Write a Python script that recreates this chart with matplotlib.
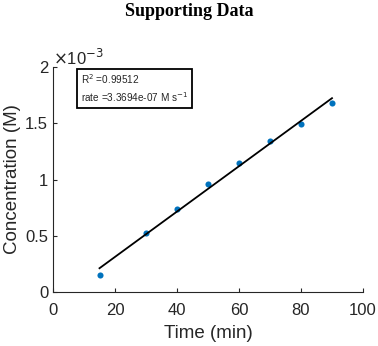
import numpy as np
import matplotlib.pyplot as plt
from matplotlib.ticker import FuncFormatter

# data
time_min = [15, 30, 40, 50, 60, 70, 80, 90]
conc_M = [0.154e-3, 0.522e-3, 0.736e-3, 0.956e-3, 1.150e-3, 1.344e-3, 1.496e-3, 1.681e-3]
r_squared = 0.99512
rate = 3.3694e-07
x_ticks = [0, 20, 40, 60, 80, 100]
y_ticks = [0, 0.5, 1, 1.5, 2]

plt.rcParams['font.family'] = ['Liberation Sans', 'DejaVu Sans']
grey = '#262626'

t = np.array(time_min)
c = np.array(conc_M) * 1e3  # shown in units of 1e-3 M

# linear fit through the points
slope, intercept = np.polyfit(t, c, 1)
t_fit = np.array([t.min(), t.max()])

fig = plt.figure(figsize=(3.78, 3.46), dpi=100)
ax = fig.add_axes([53 / 378, 1 - 292 / 346, 310 / 378, 225 / 346])

ax.plot(t, c, 'o', color='#0072BD', markersize=4.4, markeredgewidth=0)
ax.plot(t_fit, slope * t_fit + intercept, color='black', linewidth=1.3)

ax.set_xlim(0, 100)
ax.set_ylim(0, 2)
ax.set_xticks(x_ticks)
ax.set_yticks(y_ticks)
ax.yaxis.set_major_formatter(FuncFormatter(lambda v, p: '%g' % v))
ax.tick_params(direction='in', length=3, width=0.8, colors=grey, labelsize=12)
ax.tick_params(axis='x', pad=8)
ax.tick_params(axis='y', pad=3.5)
for side in ['top', 'right']:
    ax.spines[side].set_visible(False)
for side in ['left', 'bottom']:
    ax.spines[side].set_color(grey)
    ax.spines[side].set_linewidth(0.8)

ax.set_xlabel('Time (min)', fontsize=13.5, color=grey, labelpad=5)
ax.set_ylabel('Concentration (M)', fontsize=13.5, color=grey, labelpad=3)
ax.text(0.0, 0.995, r'$\times$10$^{-3}$', transform=ax.transAxes, fontsize=12,
        color=grey, ha='left', va='bottom')

ax.text(0.09, 0.975, 'R$^2$ =%.5f\nrate =%.4e M s$^{-1}$' % (r_squared, rate),
        transform=ax.transAxes, fontsize=7.2, color=grey, ha='left', va='top',
        linespacing=1.3,
        bbox=dict(boxstyle='square,pad=0.4', facecolor='white', edgecolor='black', linewidth=1.3))

fig.text(0.5, 1 - 12 / 346, 'Supporting Data', family='Liberation Serif', weight='bold',
         fontsize=13, ha='center', va='center')

fig.savefig('out.png', dpi=100)
